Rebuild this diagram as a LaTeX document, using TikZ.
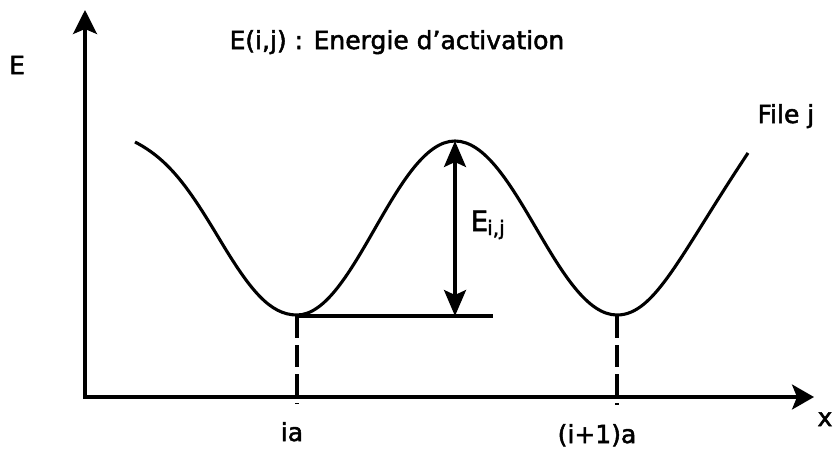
\documentclass[tikz,border=0pt]{standalone}
\usepackage{fontspec}
\setmainfont{DejaVu Sans}
\newfontfamily\lblfont[FakeBold=2]{DejaVu Sans}
\usetikzlibrary{arrows.meta}
\begin{document}
\begin{tikzpicture}[x=1pt,y=-1pt,line width=3.1pt,
  axis/.style={{Stealth[length=24pt,width=24pt,inset=5pt]}-{Stealth[length=22pt,width=25pt,inset=5pt]}, line join=miter},
  dbl/.style={{Stealth[length=26pt,width=22pt,inset=5pt]}-{Stealth[length=26pt,width=22pt,inset=5pt]}},
  guide/.style={dash pattern=on 22pt off 7pt},
  lbl/.style={inner sep=0pt, font=\lblfont\fontsize{25}{28}\selectfont}]
\useasboundingbox (0,0) rectangle (834,448);
% axes
\coordinate (ytop) at (85,10);
\coordinate (O) at (85,397);
\coordinate (xend) at (814,397);
\draw[axis] (ytop) -- (O) -- (xend);
% curve
\draw (135,142) .. controls (170,160) and (190,190) .. (220,240)
  .. controls (250,290) and (270,315) .. (297,315)
  .. controls (354,315) and (396,141) .. (455,141)
  .. controls (515,141) and (557,315) .. (617,315)
  .. controls (655,315) and (680,255) .. (748,153);
% key points
\coordinate (m1) at (297,316);
\coordinate (m2) at (617,316);
\coordinate (peak) at (455,141);
\coordinate (pbase) at (455,316);
\coordinate (hend) at (493,316);
\coordinate (d1) at (297,404);
\coordinate (d2) at (617,405);
\draw (m1) -- (hend);
\draw[dbl] (peak) -- (pbase);
\draw[guide] (m1) -- (d1);
\draw[guide] (m2) -- (d2);
% labels
\node[lbl] (Elab) at (17,65) {E};
\node[lbl, anchor=base west] (title) at (228,49) {E(i,j) : Energie d’activation};
\node[lbl, anchor=base west] (filej) at (756,123) {File j};
\node[lbl, anchor=base west, font=\lblfont\fontsize{28}{30}\selectfont] (Eij) at (469,231) {E\kern-1pt\raisebox{-4pt}{\lblfont\fontsize{20}{22}\selectfont i,j}};
\node[lbl, anchor=base] (ia) at (292,441) {ia};
\node[lbl, anchor=base] (ip1a) at (597,443) {(i+1)a};
\node[lbl, anchor=base west] (xlab) at (816,426) {x};
\end{tikzpicture}
\end{document}
